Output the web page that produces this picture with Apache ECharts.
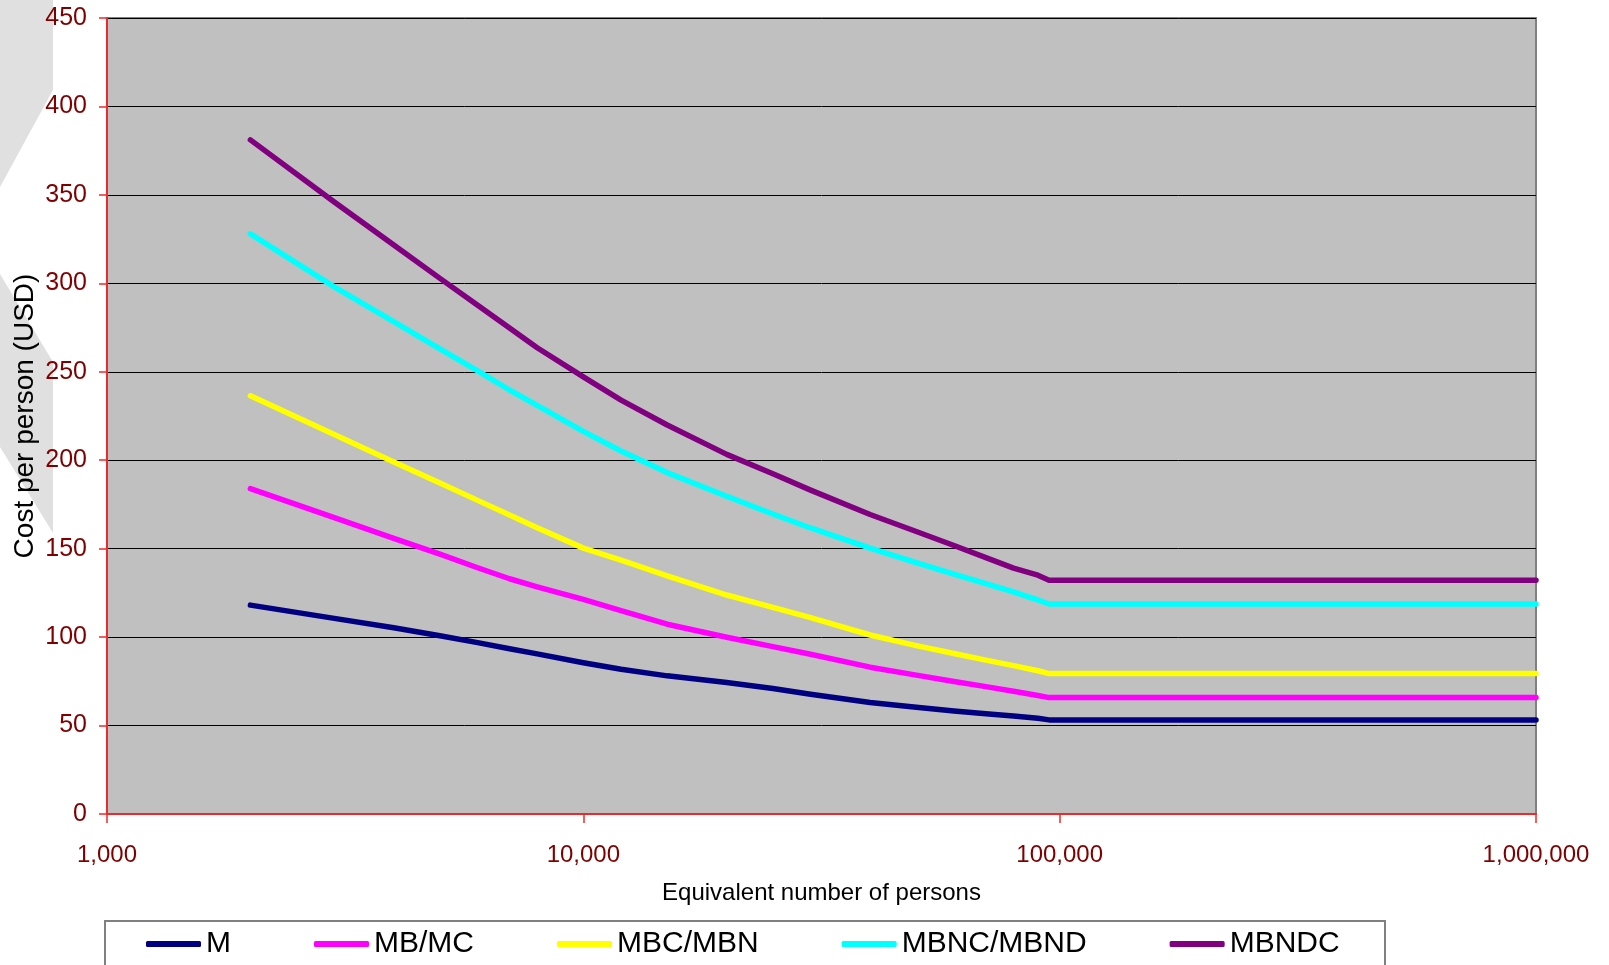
<!DOCTYPE html>
<html>
<head>
<meta charset="utf-8">
<script src="https://cdn.jsdelivr.net/npm/echarts@6/dist/echarts.min.js"></script>
<style>
html,body{margin:0;padding:0;background:#fff;}
#chart{width:1609px;height:965px;}
</style>
</head>
<body>
<div id="chart"></div>
<script>
// ---- data ----
const persons = [2000,3000,4000,5000,6000,7000,8000,10000,12000,15000,20000,25000,30000,40000,50000,60000,70000,80000,90000,95000,1000000];
const seriesNames = ['M','MB/MC','MBC/MBN','MBNC/MBND','MBNDC'];
const valM     = [118.1,110.6,105.3,100.8,96.9,93.4,90.5,85.5,81.8,78.1,74.3,70.9,67.7,63.0,60.3,58.2,56.7,55.4,54.1,53.2,53.2];
const valMB    = [183.9,167.5,155.8,146.9,139.2,133.0,128.4,121.3,115.0,107.3,99.9,94.6,90.3,83.0,78.5,74.9,72.0,69.4,67.0,65.8,65.8];
const valMBC   = [236.4,214.5,199.0,187.1,177.3,169.0,161.8,150.3,143.5,134.6,123.8,116.8,111.0,101.2,95.2,90.7,87.0,83.9,81.0,79.4,79.4];
const valMBNC  = [328.0,298.0,278.3,263.0,250.5,239.7,231.0,216.3,205.2,193.0,179.6,169.6,161.7,150.3,142.1,135.6,130.2,125.6,121.0,118.7,118.7];
const valMBNDC = [381.1,346.0,321.7,302.8,287.6,274.8,263.6,247.1,234.0,219.9,203.3,192.4,183.1,169.3,159.7,151.8,144.9,139.0,135.0,132.2,132.2];
const xTickValues = [1000,10000,100000,1000000];
const yTicks = [0,50,100,150,200,250,300,350,400,450];

const allValues = [valM,valMB,valMBC,valMBNC,valMBNDC];
const colors = ['#000080','#ff00ff','#ffff00','#00ffff','#800080'];

const fontFam = "'Liberation Sans',Arial,sans-serif";
const axisRed = '#f02828';
const labelRed = '#800000';

const chart = echarts.init(document.getElementById('chart'), null, {renderer:'canvas'});
const option = {
  animation:false,
  graphic:[
    {type:'polygon', z:-10, silent:true, shape:{points:[[0,0],[53,0],[53,90],[0,187]]}, style:{fill:'#e0e0e0'}},
    {type:'polygon', z:-10, silent:true, shape:{points:[[0,274],[53,362],[53,533],[0,447]]}, style:{fill:'#e0e0e0'}},
    {type:'rect', z:-1, silent:true, shape:{x:105,y:921,width:1280,height:80}, style:{fill:'#ffffff',stroke:'#808080',lineWidth:2}}
  ],
  grid:{left:107,top:18,right:73,bottom:151,show:true,backgroundColor:'#c0c0c0',borderColor:'#808080',borderWidth:2,
        containLabel:false, outerBoundsMode:'none'},
  legend:{
    left:146, top:929, padding:0,
    itemWidth:55, itemHeight:6, itemGap:83,
    icon:'roundRect',
    textStyle:{fontFamily:fontFam,fontSize:30,color:'#000',lineHeight:30},
    data:seriesNames
  },
  xAxis:{
    type:'log', logBase:10, min:xTickValues[0], max:xTickValues[xTickValues.length-1],
    name:'Equivalent number of persons', nameLocation:'middle', nameGap:67, nameMoveOverlap:false,
    nameTextStyle:{fontFamily:fontFam,fontSize:24,color:'#000'},
    axisLine:{show:true,onZero:false,lineStyle:{color:axisRed,width:2}},
    axisTick:{show:true,length:9,lineStyle:{color:axisRed,width:1.5}},
    axisLabel:{margin:29,color:labelRed,fontFamily:fontFam,fontSize:24,showMinLabel:true,showMaxLabel:true,
      formatter:function(v){return Math.round(v).toLocaleString('en-US');}},
    splitLine:{show:false},
    minorTick:{show:false}
  },
  yAxis:{
    type:'value', min:yTicks[0], max:yTicks[yTicks.length-1], interval:50,
    name:'Cost per person (USD)', nameLocation:'middle', nameGap:68, nameMoveOverlap:false,
    nameTextStyle:{fontFamily:fontFam,fontSize:28,color:'#000'},
    axisLine:{show:true,lineStyle:{color:axisRed,width:2}},
    axisTick:{show:true,length:8,lineStyle:{color:axisRed,width:1.5}},
    axisLabel:{margin:20,color:labelRed,fontFamily:fontFam,fontSize:25},
    splitLine:{show:true,lineStyle:{color:'#000',width:1}}
  },
  series: seriesNames.map(function(name,i){
    return {
      name:name, type:'line', showSymbol:false, symbol:'none', smooth:false,
      color:colors[i],
      lineStyle:{color:colors[i],width:5.5,cap:'round',join:'round'},
      itemStyle:{color:colors[i]},
      data: persons.map(function(p,j){return [p, allValues[i][j]];})
    };
  })
};
chart.setOption(option);
</script>
</body>
</html>
